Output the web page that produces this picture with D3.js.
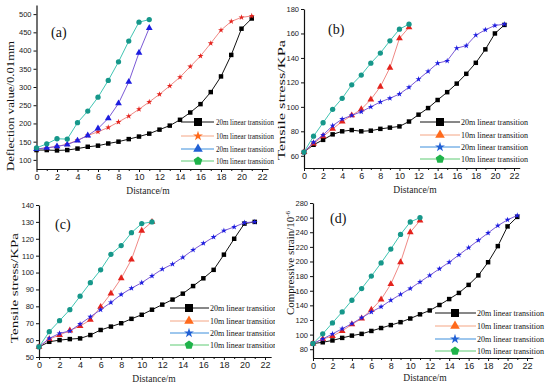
<!DOCTYPE html>
<html>
<head>
<meta charset="utf-8">
<script src="https://cdn.jsdelivr.net/npm/d3@7"></script>
<style>
body { margin: 0; background: #fff; }
svg { display: block; font-family: "Liberation Serif", "Times New Roman", serif; }
</style>
</head>
<body>
<svg id="chart" width="550" height="385"></svg>
<script>
// distances along the transition (m)
const dist20 = [0,1,2,3,4,5,6,7,8,9,10,11,12,13,14,15,16,17,18,19,20,21];
const dist10 = [0,1,2,3,4,5,6,7,8,9,10,11];

// (a) deflection value / 0.01mm
const aSquare = [127,127,126,127,131,136,139,145,150,157,164,172,183,194,210,230,253,286,329,388,460,488];
const aStar   = [130,133,137,143,154,167,177,189,204,220,239,259,280,303,327,356,385,420,456,480,491,495];
const aTri    = [130,133,137,142,153,167,186,214,255,314,394,462];
const aCircle = [133,144,158,157,202,234,272,318,369,426,478,485];

// (b) tensile stress / KPa
const bSquare = [63,69,73,77.5,80,81,80,80.5,82,83,84,88,93.6,99,105.6,112,119,127,136,147,160,167];
const bTri    = [63,70,76,82,88,93,98,106,116.5,132,156,165];
const bStar   = [63,71,77,84.6,90,93,96,100,104,107,110.5,116,122.6,129,135.7,137.6,148,150,158.6,163,166.5,167.6];
const bCircle = [63,76,87,98,107,118,126,135.7,144,154,163.5,167.6];

// (c) tensile stress / KPa
const cSquare = [56,59,60,60.6,61,63,66,68,70,72.6,75,78,81,84,87.5,92,96.6,101.6,110.6,120,129,130];
const cTri    = [56,60.6,63,65.7,68.3,72,79.7,87.6,96.6,107.7,124.8,130];
const cStar   = [56,61,64,65.4,69.5,73.8,78,82.3,87,90.7,94,98,102,105,109,113.4,117.3,121,124.8,127,129.5,130];
const cCircle = [56,65,71.5,78,86,94,101.6,110.8,116,123.6,129,130];

// (d) compressive strain / 10^-6
const dSquare = [87.7,89.5,92,95.5,98.6,101,105,109,113,117,122,127.7,133,140.5,148.6,157,168,181,199,221,248,261];
const dTri    = [87.7,94,98,105,114,122,134,148,169,199,240,256];
const dStar   = [87.7,94,101,108,115,123,131,138,147,155,163,172,181,190,199,209,219,229,239,249,257,263];
const dCircle = [87.7,101,116,131,147,163,180,198,217,237,254,260];

const legendNames = ["20m linear transition","10m linear transition","20m linear transition","10m linear transition"];
const xTicks = [0,2,4,6,8,10,12,14,16,18,20,22];
const xMinor = [1,3,5,7,9,11,13,15,17,19,21];
const aTicks = [100,150,200,250,300,350,400,450,500];
const bTicks = [60,80,100,120,140,160,180];
const cTicks = [50,60,70,80,90,100,110,120,130,140];
const dTicks = [80,100,120,140,160,180,200,220,240,260,280];

// custom pentagon symbol for the legend
const symbolPentagon = {
    draw(ctx, size) {
        const r = Math.sqrt(size / 2.38);
        for (let i = 0; i < 5; i++) {
            const a = -Math.PI / 2 + i * 2 * Math.PI / 5;
            if (i === 0) ctx.moveTo(r * Math.cos(a), r * Math.sin(a));
            else ctx.lineTo(r * Math.cos(a), r * Math.sin(a));
        }
        ctx.closePath();
    }
};
const shapes = {
    square: d3.symbolSquare,
    star: d3.symbolStar,
    triangle: d3.symbolTriangle,
    circle: d3.symbolCircle,
    pentagon: symbolPentagon
};
const plotSize = { square: 20, star: 11, triangle: 20, circle: 22 };
const legSize = { square: 64, star: 30, triangle: 40, pentagon: 48 };

const BLACK = { fill: "#000", line: "#111" };
const RED = { fill: "#e4231d", line: "#f08a86" };
const BLUE = { fill: "#1d1de0", line: "#7b5ad6" };
const TEAL = { fill: "#16978a", line: "#41c5b3" };
const L_ORANGE = { fill: "#ff6a1c", line: "#f4a584" };
const L_BLUE = { fill: "#2160d4", line: "#3d8fdc" };
const L_GREEN = { fill: "#1fb34a", line: "#5fcb74" };

const panels = [
    {
        id: "a", label: "(a)", labelPos: [51, 37],
        x0: 36.5, x22: 262, yRange: [169, 5], yDomain: [75, 525], yTicks: aTicks,
        yLabel: "Deflection value/0.01mm", yLabelPos: [10, 106], yLabelLen: 130,
        xLabelPos: [148, 194],
        series: [
            { x: dist20, y: aSquare, shape: "square", c: BLACK },
            { x: dist20, y: aStar, shape: "star", c: RED },
            { x: dist10, y: aTri, shape: "triangle", c: BLUE },
            { x: dist10, y: aCircle, shape: "circle", c: TEAL }
        ],
        legend: { rows: [122, 136, 149, 161], line: [181, 214], mark: 198, text: 216, len: 58,
            items: [["square", BLACK], ["star", L_ORANGE], ["triangle", L_BLUE], ["pentagon", L_GREEN]] },
        clip: [0, 0, 275, 195]
    },
    {
        id: "b", label: "(b)", labelPos: [328, 34],
        x0: 304, x22: 514, yRange: [168, 9], yDomain: [50, 180], yTicks: bTicks,
        yLabel: "Tensile stress/KPa", yLabelPos: [281, 100], yLabelLen: 120,
        xLabelPos: [415, 193],
        series: [
            { x: dist20, y: bSquare, shape: "square", c: BLACK },
            { x: dist10, y: bTri, shape: "triangle", c: RED },
            { x: dist20, y: bStar, shape: "star", c: BLUE },
            { x: dist10, y: bCircle, shape: "circle", c: TEAL }
        ],
        legend: { rows: [122, 135, 147, 159], line: [420, 460], mark: 440, text: 461, len: 67,
            items: [["square", BLACK], ["triangle", L_ORANGE], ["star", L_BLUE], ["pentagon", L_GREEN]] },
        clip: [275, 0, 275, 195]
    },
    {
        id: "c", label: "(c)", labelPos: [55, 229],
        x0: 39, x22: 265, yRange: [357, 205], yDomain: [50, 140], yTicks: cTicks,
        yLabel: "Tensile stress/KPa", yLabelPos: [14, 288], yLabelLen: 110,
        xLabelPos: [154, 382],
        series: [
            { x: dist20, y: cSquare, shape: "square", c: BLACK },
            { x: dist10, y: cTri, shape: "triangle", c: RED },
            { x: dist20, y: cStar, shape: "star", c: BLUE },
            { x: dist10, y: cCircle, shape: "circle", c: TEAL }
        ],
        legend: { rows: [308, 321, 333, 345], line: [170, 209], mark: 189, text: 210, len: 67,
            items: [["square", BLACK], ["triangle", L_ORANGE], ["star", L_BLUE], ["pentagon", L_GREEN]] },
        clip: [0, 190, 275, 195]
    },
    {
        id: "d", label: "(d)", labelPos: [330, 223],
        x0: 313, x22: 527, yRange: [358, 203], yDomain: [68, 280], yTicks: dTicks,
        yLabel: "Compressive strain/10", yLabelPos: [290, 263], yLabelLen: 104,
        xLabelPos: [425, 381],
        series: [
            { x: dist20, y: dSquare, shape: "square", c: BLACK },
            { x: dist10, y: dTri, shape: "triangle", c: RED },
            { x: dist20, y: dStar, shape: "star", c: BLUE },
            { x: dist10, y: dCircle, shape: "circle", c: TEAL }
        ],
        legend: { rows: [313, 326, 339, 351], line: [435, 476], mark: 455, text: 477, len: 67,
            items: [["square", BLACK], ["triangle", L_ORANGE], ["star", L_BLUE], ["pentagon", L_GREEN]] },
        clip: [275, 190, 275, 195]
    }
];

const svg = d3.select("#chart");
const defs = svg.append("defs");

panels.forEach(p => drawPanel(p));

function drawPanel(p) {
    defs.append("clipPath").attr("id", "clip-" + p.id)
        .append("rect")
        .attr("x", p.clip[0]).attr("y", p.clip[1])
        .attr("width", p.clip[2]).attr("height", p.clip[3]);

    const g = svg.append("g").attr("clip-path", `url(#clip-${p.id})`);

    const xEnd = p.x0 + (p.x22 - p.x0) * 22.6 / 22;
    const x = d3.scaleLinear().domain([0, 22.6]).range([p.x0, xEnd]);
    const y = d3.scaleLinear().domain(p.yDomain).range(p.yRange);
    const yBottom = p.yRange[0];

    // x axis
    const xAxis = g.append("g")
        .attr("transform", `translate(0,${yBottom})`)
        .call(d3.axisBottom(x).tickValues(xTicks).tickSize(3).tickSizeOuter(0).tickPadding(2));
    xAxis.selectAll("text").attr("font-size", 9).attr("font-family", "inherit").attr("fill", "#222");
    g.append("g")
        .attr("transform", `translate(0,${yBottom})`)
        .call(d3.axisBottom(x).tickValues(xMinor).tickSize(2).tickFormat(""))
        .select(".domain").remove();

    // y axis
    const yAxis = g.append("g")
        .attr("transform", `translate(${p.x0},0)`)
        .call(d3.axisLeft(y).tickValues(p.yTicks).tickSize(3).tickSizeOuter(0).tickPadding(2));
    yAxis.selectAll("text").attr("font-size", 7.5).attr("font-family", "inherit").attr("fill", "#222");

    g.selectAll(".domain").attr("stroke", "#111").attr("stroke-width", 1.2);
    g.selectAll(".tick line").attr("stroke", "#111");

    // series
    const line = d3.line().x(d => x(d[0])).y(d => y(d[1]));
    p.series.forEach(s => {
        const pts = s.x.map((d, i) => [d, s.y[i]]);
        g.append("path")
            .datum(pts)
            .attr("d", line)
            .attr("fill", "none")
            .attr("stroke", s.c.line)
            .attr("stroke-width", 1);
        g.selectAll(null)
            .data(pts)
            .enter().append("path")
            .attr("transform", d => `translate(${x(d[0])},${y(d[1])})`)
            .attr("d", d3.symbol(shapes[s.shape], plotSize[s.shape]))
            .attr("fill", s.c.fill);
    });

    // legend
    const lg = p.legend;
    lg.items.forEach((it, i) => {
        const ry = lg.rows[i];
        g.append("line")
            .attr("x1", lg.line[0]).attr("x2", lg.line[1])
            .attr("y1", ry).attr("y2", ry)
            .attr("stroke", it[1].line).attr("stroke-width", 1);
        g.append("path")
            .attr("transform", `translate(${lg.mark},${ry})`)
            .attr("d", d3.symbol(shapes[it[0]], legSize[it[0]]))
            .attr("fill", it[1].fill);
        g.append("text")
            .attr("x", lg.text).attr("y", ry + 3)
            .attr("font-size", 8)
            .attr("textLength", lg.len)
            .attr("lengthAdjust", "spacingAndGlyphs")
            .attr("fill", "#111")
            .text(legendNames[i]);
    });

    // panel tag
    svg.append("text")
        .attr("x", p.labelPos[0]).attr("y", p.labelPos[1])
        .attr("font-size", 14)
        .attr("fill", "#111")
        .text(p.label);

    // axis titles
    const yl = svg.append("text")
        .attr("transform", `translate(${p.yLabelPos[0]},${p.yLabelPos[1]}) rotate(-90)`)
        .attr("text-anchor", "middle")
        .attr("dy", "0.35em")
        .attr("font-size", 11)
        .attr("textLength", p.yLabelLen)
        .attr("lengthAdjust", "spacingAndGlyphs")
        .attr("fill", "#111")
        .text(p.yLabel);
    if (p.id === "d") {
        yl.append("tspan").attr("font-size", 7).attr("dy", "-0.5em").text("-6");
    }

    svg.append("text")
        .attr("x", p.xLabelPos[0]).attr("y", p.xLabelPos[1])
        .attr("text-anchor", "middle")
        .attr("font-size", 9.5)
        .attr("fill", "#222")
        .text("Distance/m");
}
</script>
</body>
</html>
